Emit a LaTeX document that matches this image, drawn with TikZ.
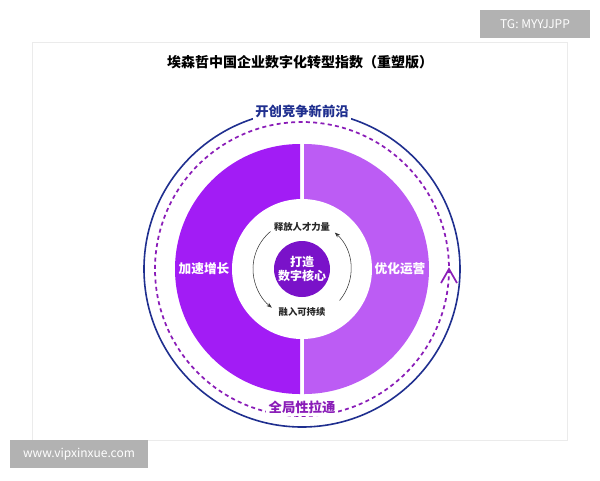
\documentclass[tikz,border=0pt]{standalone}
\usepackage{fontspec}
\setmainfont{Noto Sans CJK SC}
\usepackage{tikz}
\usetikzlibrary{arrows.meta}
\definecolor{violetL}{HTML}{A21CF5}
\definecolor{violetR}{HTML}{BC5CF4}
\definecolor{violetC}{HTML}{7A12C9}
\definecolor{ringblue}{HTML}{1F2F8F}
\definecolor{dashpurple}{HTML}{8A1DB8}

\begin{document}
\begin{tikzpicture}[x=0.75pt,y=-0.75pt]

\tikzstyle{wm_box} = [fill=gray!60, text=white, font=\fontsize{9}{10}\selectfont, inner sep=0pt, minimum height=21pt]
\tikzstyle{half_label} = [text=white, font=\bfseries\fontsize{9.5}{12}\selectfont]
\tikzstyle{inner_label} = [text=black!85, font=\bfseries\fontsize{7}{8}\selectfont]
\tikzstyle{ring_label} = [fill=white, inner sep=2pt, font=\bfseries\fontsize{10}{12}\selectfont]
\tikzstyle{inner_arc} = [-{Stealth[length=4pt]}, thin, black!80]

%------------------------------------------------------------
	\useasboundingbox (0,0) rectangle (600,480);
	\draw[black!8, fill=white] (32,42) rectangle (567,440);
	\node[font=\bfseries\fontsize{10.5}{12}\selectfont] (title) at (300,62) {埃森哲中国企业数字化转型指数（重塑版）};

%------------------------------------------------------------
	\coordinate (c) at (302,269);
	\draw[ringblue, line width=1.2pt] (c) circle (158);
	\draw[dashpurple, line width=1.3pt, dash pattern=on 3pt off 2.5pt] (c) circle (147);
	\fill[violetL] (300,144) arc (-90:-270:125) -- cycle;
	\fill[violetR] (304,144) arc (-90:90:125) -- cycle;
	\fill[white] (c) circle (70);
	\fill[violetC] (c) circle (28);

%------------------------------------------------------------
	\node[half_label] (grow) at (204,269) {加速增长};
	\node[half_label] (optim) at (400,269) {优化运营};
	\node[half_label, align=center, font=\bfseries\fontsize{9}{11}\selectfont] (core) at (c) {打造\\数字核心};
	\node[inner_label] (talent) at (302,227) {释放人才力量};
	\node[inner_label] (sustain) at (302,312) {融入可持续};
	\node[ring_label, text=ringblue] (front) at (302,111) {开创竞争新前沿};
	\node[ring_label, text=dashpurple] (pull) at (302,407) {全局性拉通};

%------------------------------------------------------------
	\draw[inner_arc] ([shift={(-130:49)}]c) arc (-130:-232:49);
	\draw[inner_arc] ([shift={(40:49)}]c) arc (40:-48:49);
	\draw[dashpurple, line width=1.3pt] (441,283) -- (449,269) -- (457,283);
	\node[wm_box, minimum width=82pt] (tg) at (535,24) {TG: MYYJJPP};
	\node[wm_box, minimum width=104pt] (www) at (79,454) {www.vipxinxue.com};

\end{tikzpicture}
\end{document}
